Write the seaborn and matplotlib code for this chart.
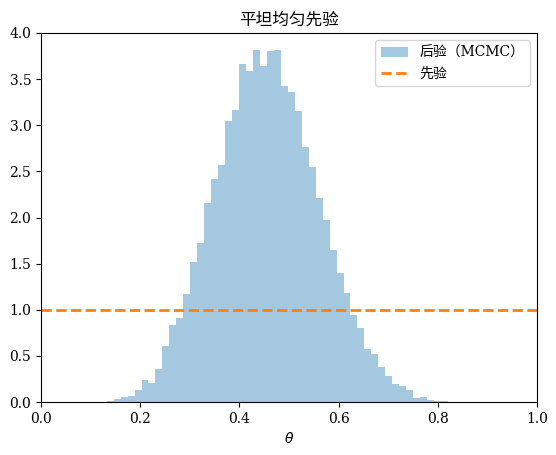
import numpy as np
import pandas as pd
import matplotlib
matplotlib.use("Agg")
import matplotlib.pyplot as plt
import seaborn as sns

# ---- data ----
bin_start = 0.1324
bin_end = 0.8206
density = [0.011, 0.033, 0.054, 0.065, 0.130, 0.238, 0.206, 0.358, 0.607, 0.835,
           0.911, 1.171, 1.518, 1.724, 2.157, 2.417, 2.569, 3.050, 3.165, 3.664,
           3.588, 3.816, 3.642, 3.805, 3.816, 3.425, 3.364, 3.158, 2.764, 2.551,
           2.211, 1.973, 1.648, 1.398, 1.182, 0.943, 0.802, 0.575, 0.524, 0.379,
           0.282, 0.195, 0.173, 0.130, 0.043, 0.054, 0.022, 0.011, 0.011]
prior_value = 1.0
title = "平坦均匀先验"
post_label = "后验（MCMC）"
prior_label = "先验"
xlabel = r"$\theta$"

edges = np.linspace(bin_start, bin_end, len(density) + 1)
centers = (edges[:-1] + edges[1:]) / 2
df = pd.DataFrame({"theta": centers, "density": density})

plt.rcParams["font.family"] = ["DejaVu Serif", "Noto Sans CJK SC"]
plt.rcParams["mathtext.fontset"] = "dejavusans"

W, H = 5.56, 4.55
fig = plt.figure(figsize=(W, H), dpi=100)
ax = fig.add_axes([41 / 556, (455 - 402) / 455, 496 / 556, 369 / 455])

sns.histplot(data=df, x="theta", weights="density", bins=len(density),
             binrange=(bin_start, bin_end), stat="count",
             color="C0", alpha=0.4, linewidth=0, edgecolor="none",
             label=post_label, ax=ax)
ax.axhline(prior_value, color="C1", linestyle="--", linewidth=2, label=prior_label)

ax.set_xlim(0, 1)
ax.set_ylim(0, 4)
ax.set_xlabel(xlabel)
ax.set_ylabel("")
ax.set_title(title, fontsize=12)

handles, labels = ax.get_legend_handles_labels()
order = [labels.index(post_label), labels.index(prior_label)]
ax.legend([handles[i] for i in order], [labels[i] for i in order], loc="upper right")

fig.savefig("out.png", dpi=100)
